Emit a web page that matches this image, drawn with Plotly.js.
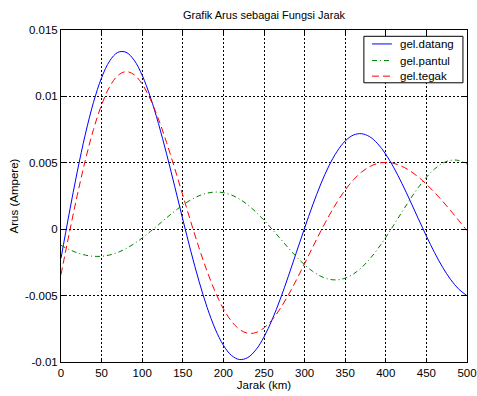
<!DOCTYPE html>
<html>
<head>
<meta charset="utf-8">
<script src="https://cdn.plot.ly/plotly-3.0.1.min.js"></script>
<style>
html,body{margin:0;padding:0;background:#fff;}
#chart{width:477px;height:396px;}
</style>
</head>
<body>
<div id="chart"></div>
<script>
// Distance (km)
var jarak = [0,10,20,30,40,50,60,70,80,90,100,110,120,130,140,150,160,170,180,190,200,
  210,220,230,240,250,260,270,280,290,300,310,320,330,340,350,360,370,380,390,400,
  410,420,430,440,450,460,470,480,490,500];

// gel.datang (incident wave current, A)
var gelDatang = [-0.002194,0.001159,0.004320,0.007155,0.009548,0.011409,0.012675,0.013316,0.013327,0.012733,0.011588,
  0.009965,0.007959,0.005675,0.003229,0.000739,-0.001682,-0.003925,-0.005899,-0.007523,-0.008739,
  -0.009508,-0.009815,-0.009665,-0.009082,-0.008114,-0.006818,-0.005267,-0.003541,-0.001728,0.000089,
  0.001827,0.003409,0.004772,0.005861,0.006641,0.007087,0.007192,0.006969,0.006439,0.005639,
  0.004618,0.003430,0.002135,0.000797,-0.000521,-0.001761,-0.002869,-0.003801,-0.004523,-0.005011];

// gel.pantul (reflected wave current, A)
var gelPantul = [-0.001219,-0.001526,-0.001775,-0.001950,-0.002041,-0.002039,-0.001941,-0.001747,-0.001462,-0.001096,-0.000662,
  -0.000178,0.000336,0.000856,0.001358,0.001817,0.002211,0.002517,0.002718,0.002798,0.002751,
  0.002571,0.002261,0.001832,0.001297,0.000678,0.000000,-0.000707,-0.001412,-0.002080,-0.002679,
  -0.003177,-0.003547,-0.003766,-0.003815,-0.003687,-0.003379,-0.002898,-0.002259,-0.001486,-0.000609,
  0.000335,0.001304,0.002253,0.003137,0.003911,0.004533,0.004969,0.005188,0.005172,0.004911];

// gel.tegak (standing wave current, A)
var gelTegak = [-0.003413,-0.000367,0.002545,0.005205,0.007507,0.009370,0.010734,0.011569,0.011865,0.011637,0.010926,
  0.009787,0.008295,0.006531,0.004587,0.002556,0.000529,-0.001408,-0.003181,-0.004725,-0.005988,
  -0.006937,-0.007554,-0.007833,-0.007785,-0.007436,-0.006818,-0.005974,-0.004953,-0.003808,-0.002590,
  -0.001350,-0.000138,0.001006,0.002046,0.002954,0.003708,0.004294,0.004710,0.004953,0.005030,
  0.004953,0.004734,0.004388,0.003934,0.003390,0.002772,0.002100,0.001387,0.000649,-0.000100];

var seriesNames = ["gel.datang", "gel.pantul", "gel.tegak"];

var xTickVals = [0,50,100,150,200,250,300,350,400,450,500];
var xTickText = ["0","50","100","150","200","250","300","350","400","450","500"];
var yTickVals = [-0.01,-0.005,0,0.005,0.01,0.015];
var yTickText = ["-0.01","-0.005","0","0.005","0.01","0.015"];

var FONT = "Liberation Sans, Arial, sans-serif";
var styles = [
  {color: "#0000ff", width: 1, dash: "solid"},
  {color: "#008000", width: 1, dash: "5px,3px,1px,3px"},
  {color: "#ff0000", width: 1, dash: "7px,4px"}
];
var ys = [gelDatang, gelPantul, gelTegak];

var traces = ys.map(function (y, i) {
  return {x: jarak, y: y, name: seriesNames[i], type: "scatter", mode: "lines",
    line: Object.assign({shape: "spline", smoothing: 1}, styles[i])};
});

// Legend drawn as a MATLAB-like box (paper coordinates)
var legBox = {x0: 0.746, x1: 0.990, y0: 0.841, y1: 0.981};
var legRows = [0.958, 0.908, 0.861];
var shapes = [{type: "rect", xref: "paper", yref: "paper", x0: legBox.x0, x1: legBox.x1,
  y0: legBox.y0, y1: legBox.y1, fillcolor: "#fff", line: {color: "#000", width: 1}, layer: "above"}];
var annotations = [];
seriesNames.forEach(function (nm, i) {
  shapes.push({type: "line", xref: "paper", yref: "paper", x0: 0.766, x1: 0.815,
    y0: legRows[i], y1: legRows[i], line: styles[i], layer: "above"});
  annotations.push({xref: "paper", yref: "paper", x: 0.829, y: legRows[i], xanchor: "left",
    yanchor: "middle", text: nm, showarrow: false,
    font: {family: FONT, size: 11.5, color: "#000"}});
});

var axisCommon = {
  showline: true, linecolor: "#000", linewidth: 1, mirror: "allticks",
  ticks: "inside", ticklen: 4, tickcolor: "#000", tickwidth: 1,
  showgrid: true, gridcolor: "#000", gridwidth: 1, griddash: "2px,2px",
  zeroline: false, ticklabeloverflow: "allow",
  tickfont: {family: FONT, size: 11.5, color: "#000"}
};

var layout = {
  width: 477, height: 396,
  margin: {l: 61, r: 10, t: 30, b: 34, pad: 0},
  paper_bgcolor: "#fff", plot_bgcolor: "#fff",
  font: {family: FONT, size: 11.5, color: "#000"},
  title: {text: "Grafik Arus sebagai Fungsi Jarak", font: {family: FONT, size: 11, color: "#000"},
          xref: "paper", x: 0.5, xanchor: "center", yref: "container", y: 0.962, yanchor: "middle"},
  xaxis: Object.assign({}, axisCommon, {
    range: [0, 500], tickmode: "array", tickvals: xTickVals, ticktext: xTickText,
    title: {text: "Jarak (km)", font: {family: FONT, size: 11.5, color: "#000"}, standoff: 3}
  }),
  yaxis: Object.assign({}, axisCommon, {
    range: [-0.01, 0.015], tickmode: "array", tickvals: yTickVals, ticktext: yTickText,
    title: {text: "Arus (Ampere)", font: {family: FONT, size: 11.5, color: "#000"}, standoff: 4}
  }),
  shapes: shapes,
  annotations: annotations,
  showlegend: false
};

Plotly.newPlot("chart", traces, layout, {displayModeBar: false, staticPlot: true});
</script>
</body>
</html>
